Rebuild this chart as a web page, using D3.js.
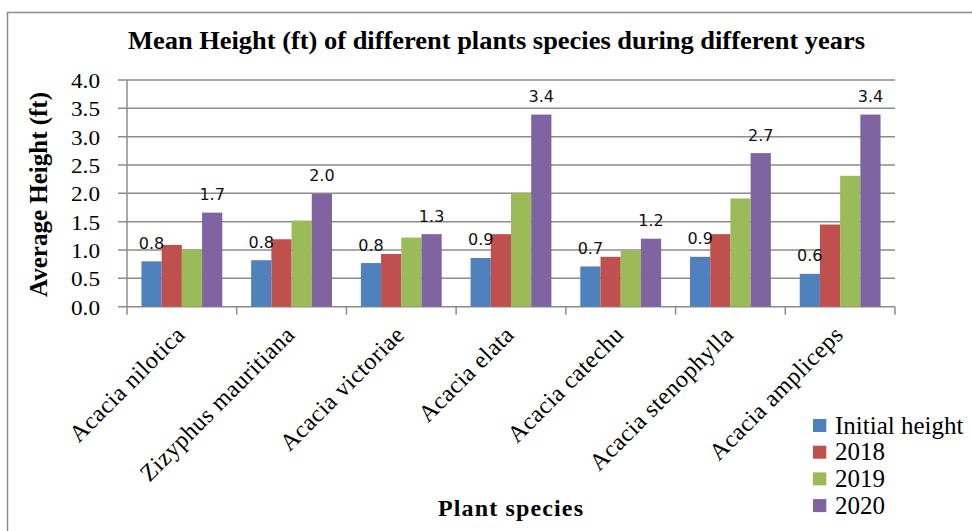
<!DOCTYPE html>
<html>
<head>
<meta charset="utf-8">
<script src="https://cdn.jsdelivr.net/npm/d3@7"></script>
<style>
  html, body { margin: 0; padding: 0; background: #ffffff; }
  svg { display: block; }
</style>
</head>
<body>
<svg id="chart" width="972" height="531"></svg>
<script>
// ---- data ----
const categories = ["Acacia nilotica", "Zizyphus mauritiana", "Acacia victoriae", "Acacia elata",
                    "Acacia catechu", "Acacia stenophylla", "Acacia ampliceps"];
const seriesNames = ["Initial height", "2018", "2019", "2020"];
const initialHeight = [0.80, 0.82, 0.77, 0.86, 0.71, 0.88, 0.58];
const h2018 = [1.09, 1.19, 0.93, 1.28, 0.88, 1.28, 1.45];
const h2019 = [1.01, 1.52, 1.22, 2.01, 0.99, 1.91, 2.31];
const h2020 = [1.66, 1.99, 1.28, 3.39, 1.20, 2.71, 3.39];
const yTicks = [0.0, 0.5, 1.0, 1.5, 2.0, 2.5, 3.0, 3.5, 4.0];
const labelledSeries = ["Initial height", "2020"];
const colors = ["#4F81BD", "#C0504D", "#9BBB59", "#8064A2"];

const seriesValues = [initialHeight, h2018, h2019, h2020];
const rows = categories.map((c, i) => ({
  category: c,
  values: seriesNames.map((s, j) => ({ series: s, value: seriesValues[j][i], idx: j }))
}));

const svg = d3.select("#chart");
const serif = "'Liberation Serif', 'Times New Roman', serif";
const sans = "'DejaVu Sans', Verdana, sans-serif";

// outer border
svg.append("rect")
  .attr("x", 7.5).attr("y", 12.5).attr("width", 972).attr("height", 530)
  .attr("fill", "none").attr("stroke", "#8c8c8c").attr("stroke-width", 1.5);

const plotLeft = 127, plotRight = 895, plotTop = 80, plotBottom = 306.7;

const x0 = d3.scaleBand().domain(categories).range([plotLeft, plotRight]).padding(0);
const x1 = d3.scaleBand().domain(seriesNames).range([0, x0.bandwidth()])
  .paddingInner(0).paddingOuter(0.715);
const y = d3.scaleLinear().domain([0, 4]).range([plotBottom, plotTop]);

// gridlines
svg.append("g").selectAll("line").data(yTicks).join("line")
  .attr("x1", plotLeft - 9).attr("x2", plotRight)
  .attr("y1", d => y(d)).attr("y2", d => y(d))
  .attr("stroke", "#8c8c8c").attr("stroke-width", 1.5);

// y axis line
svg.append("line").attr("x1", plotLeft).attr("x2", plotLeft).attr("y1", y(4)).attr("y2", y(0))
  .attr("stroke", "#8c8c8c").attr("stroke-width", 1.5);

// category tick marks
const tickXs = categories.map(c => x0(c)).concat([plotRight]);
svg.append("g").selectAll("line").data(tickXs).join("line")
  .attr("x1", d => d).attr("x2", d => d)
  .attr("y1", y(0)).attr("y2", y(0) + 8)
  .attr("stroke", "#8c8c8c").attr("stroke-width", 1.5);

// y tick labels
svg.append("g").selectAll("text").data(yTicks).join("text")
  .attr("x", 100).attr("y", d => y(d) + 8)
  .attr("text-anchor", "end")
  .attr("font-family", serif).attr("font-size", 22)
  .attr("textLength", 29).attr("lengthAdjust", "spacingAndGlyphs")
  .attr("fill", "#000")
  .text(d => d.toFixed(1));

// bars
const groups = svg.append("g").selectAll("g").data(rows).join("g")
  .attr("transform", d => `translate(${x0(d.category)},0)`);
groups.selectAll("rect").data(d => d.values).join("rect")
  .attr("x", d => x1(d.series))
  .attr("y", d => y(d.value))
  .attr("width", x1.bandwidth())
  .attr("height", d => y(0) - y(d.value))
  .attr("fill", d => colors[d.idx]);

// data labels
groups.selectAll("text").data(d => d.values.filter(v => labelledSeries.includes(v.series))).join("text")
  .attr("x", d => x1(d.series) + x1.bandwidth() / 2)
  .attr("y", d => y(d.value) - 12.5)
  .attr("text-anchor", "middle")
  .attr("font-family", sans).attr("font-size", 16)
  .attr("fill", "#111")
  .text(d => d3.format(".1f")(d.value));

// x category labels
svg.append("g").selectAll("text").data(categories).join("text")
  .attr("transform", d => `translate(${x0(d) + x0.bandwidth() / 2 + 4.5},336) rotate(-45)`)
  .attr("text-anchor", "end")
  .attr("font-family", serif).attr("font-size", 24)
  .attr("letter-spacing", 0.5)
  .attr("fill", "#000")
  .text(d => d);

// title
svg.append("text")
  .attr("x", 128).attr("y", 49)
  .attr("font-family", serif).attr("font-size", 26).attr("font-weight", "bold")
  .attr("textLength", 737).attr("lengthAdjust", "spacingAndGlyphs")
  .attr("fill", "#000")
  .text("Mean Height (ft) of different plants species during different years");

// y axis title
svg.append("text")
  .attr("transform", "translate(47,194.5) rotate(-90)")
  .attr("text-anchor", "middle")
  .attr("font-family", serif).attr("font-size", 25).attr("font-weight", "bold")
  .attr("fill", "#000")
  .text("Average Height (ft)");

// x axis title
svg.append("text")
  .attr("x", 438).attr("y", 516)
  .attr("font-family", serif).attr("font-size", 24).attr("font-weight", "bold")
  .attr("textLength", 145).attr("lengthAdjust", "spacing")
  .attr("fill", "#000")
  .text("Plant species");

// legend
const legend = svg.append("g").selectAll("g").data(seriesNames).join("g")
  .attr("transform", (d, i) => `translate(813,${419 + i * 26.7})`);
legend.append("rect").attr("width", 13.3).attr("height", 13)
  .attr("fill", (d, i) => colors[i]);
legend.append("text")
  .attr("x", 22).attr("y", 14.5)
  .attr("font-family", serif).attr("font-size", 25)
  .attr("fill", "#000")
  .text(d => d);
</script>
</body>
</html>
